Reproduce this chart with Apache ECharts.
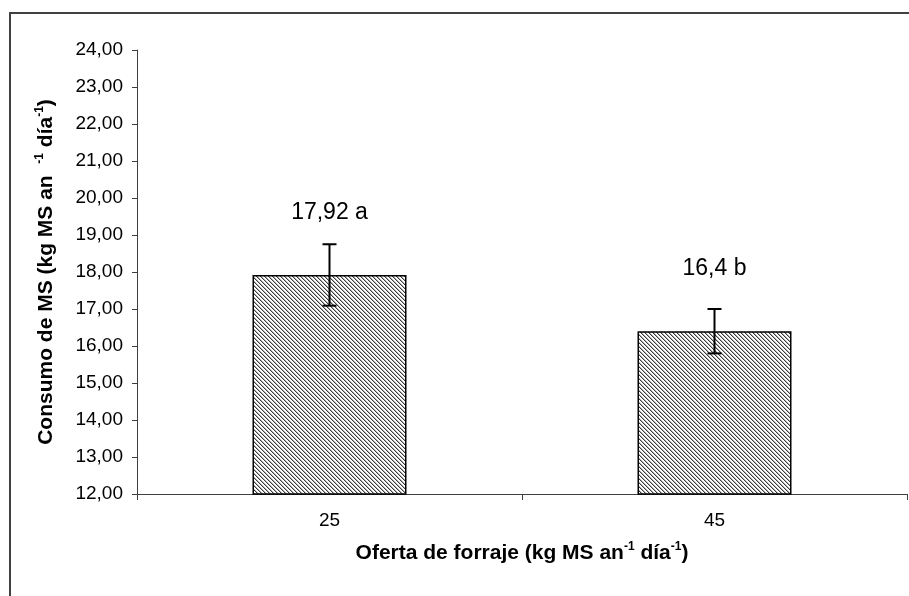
<!DOCTYPE html>
<html>
<head>
<meta charset="utf-8">
<script src="https://cdn.jsdelivr.net/npm/echarts@6/dist/echarts.min.js"></script>
<style>
  html, body { margin: 0; padding: 0; background: #fff; }
  #chart { width: 909px; height: 596px; }
</style>
</head>
<body>
<div id="chart"></div>
<script>
// Forage offer levels and mean dry-matter intake with standard error
const categories = ['25', '45'];
const intake = [17.92, 16.4];
const errors = [0.83, 0.60];
const letters = ['a', 'b'];
const yTicks = { min: 12, max: 24, step: 1 };

// Diagonal hatch fill for the bars
function hatchPattern() {
  const size = 4;
  const c = document.createElement('canvas');
  c.width = size; c.height = size;
  const ctx = c.getContext('2d');
  const img = ctx.createImageData(size, size);
  for (let y = 0; y < size; y++) {
    for (let x = 0; x < size; x++) {
      const k = ((x - y) % size + size) % size;
      let v = 255;
      if (k === 0) v = 60;
      else if (k === 1) v = 175;
      const i = (y * size + x) * 4;
      img.data[i] = v; img.data[i + 1] = v; img.data[i + 2] = v; img.data[i + 3] = 255;
    }
  }
  ctx.putImageData(img, 0, 0);
  return c;
}

const fmtComma = v => String(v).replace('.', ',');

const chart = echarts.init(document.getElementById('chart'), null, { renderer: 'canvas' });

const titleRich = {
  b: { fontFamily: 'Liberation Sans, Arial, sans-serif', fontWeight: 'bold', fontSize: 21, color: '#000', lineHeight: 24 },
  s: { fontFamily: 'Liberation Sans, Arial, sans-serif', fontWeight: 'bold', fontSize: 12, color: '#000', lineHeight: 24, verticalAlign: 'top' }
};

chart.setOption({
  animation: false,
  backgroundColor: '#fff',
  grid: { left: 137, right: 2, top: 50, bottom: 102, containLabel: false },
  xAxis: {
    type: 'category',
    data: categories,
    boundaryGap: true,
    axisLine: { show: true, lineStyle: { color: '#404040', width: 1 } },
    axisTick: { show: true, length: 6, alignWithLabel: false, lineStyle: { color: '#404040' } },
    axisLabel: { margin: 17, fontSize: 19, color: '#000', fontFamily: 'Liberation Sans, Arial, sans-serif' },
    name: '{b|Oferta de forraje (kg MS an}{s|-1}{b| día}{s|-1}{b|)}',
    nameLocation: 'middle',
    nameGap: 47,
    nameTextStyle: { rich: titleRich }
  },
  yAxis: {
    type: 'value',
    min: yTicks.min,
    max: yTicks.max,
    interval: yTicks.step,
    splitLine: { show: false },
    axisLine: { show: true, lineStyle: { color: '#404040', width: 1 } },
    axisTick: { show: true, length: 5, lineStyle: { color: '#404040' } },
    axisLabel: {
      margin: 14, fontSize: 19, color: '#000', fontFamily: 'Liberation Sans, Arial, sans-serif',
      formatter: v => v.toFixed(2).replace('.', ',')
    },
    name: '{b|Consumo de MS (kg MS an  }{s|-1}{b| día}{s|-1}{b|)}',
    nameLocation: 'middle',
    nameRotate: 90,
    nameGap: 79,
    nameTextStyle: { rich: titleRich }
  },
  series: [
    {
      type: 'bar',
      data: intake,
      barWidth: '40%',
      itemStyle: {
        color: { image: hatchPattern(), repeat: 'repeat' },
        borderColor: '#000',
        borderWidth: 1.5
      },
      label: {
        show: true,
        position: 'top',
        distance: 51,
        fontSize: 23,
        lineHeight: 23,
        color: '#000',
        fontFamily: 'Liberation Sans, Arial, sans-serif',
        formatter: p => fmtComma(p.value) + ' ' + letters[p.dataIndex]
      },
      z: 2
    },
    {
      type: 'custom',
      data: intake.map((v, i) => [i, v - errors[i], v + errors[i]]),
      renderItem: (params, api) => {
        const x = api.value(0);
        const lo = api.coord([x, api.value(1)]);
        const hi = api.coord([x, api.value(2)]);
        const half = 7;
        const style = { stroke: '#000', lineWidth: 2 };
        return {
          type: 'group',
          children: [
            { type: 'line', shape: { x1: hi[0], y1: hi[1], x2: lo[0], y2: lo[1] }, style },
            { type: 'line', shape: { x1: hi[0] - half, y1: hi[1], x2: hi[0] + half, y2: hi[1] }, style },
            { type: 'line', shape: { x1: lo[0] - half, y1: lo[1], x2: lo[0] + half, y2: lo[1] }, style }
          ]
        };
      },
      z: 5
    }
  ],
  graphic: [
    {
      type: 'polyline',
      shape: { points: [[10, 600], [10, 13], [912, 13]] },
      style: { stroke: '#404040', lineWidth: 2, fill: null },
      silent: true
    }
  ]
});
</script>
</body>
</html>
